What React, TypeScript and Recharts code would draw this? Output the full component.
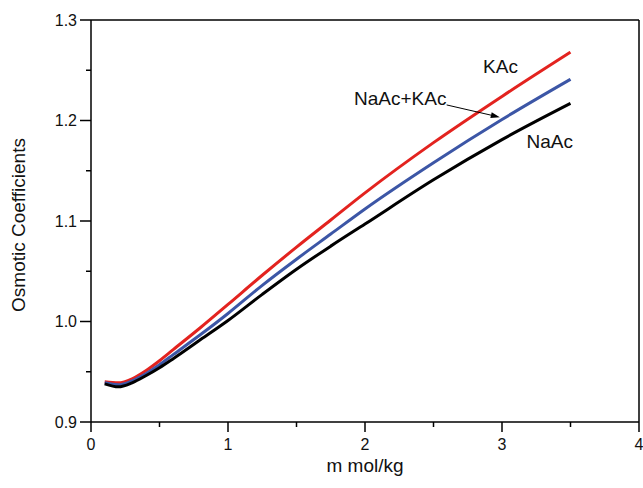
import React from 'react';
import { LineChart, Line, XAxis, YAxis, ReferenceLine, ReferenceDot } from 'recharts';

// Molality (mol/kg)
const molality = [0.1, 0.2, 0.3, 0.4, 0.5, 0.6, 0.8, 1.0, 1.25, 1.5, 1.75, 2.0, 2.5, 3.0, 3.5];
// Osmotic coefficients
const kacValues = [0.940, 0.939, 0.943, 0.951, 0.961, 0.972, 0.994, 1.017, 1.046, 1.074, 1.101, 1.128, 1.178, 1.224, 1.268];
const mixValues = [0.939, 0.937, 0.941, 0.948, 0.957, 0.967, 0.987, 1.008, 1.036, 1.062, 1.087, 1.112, 1.158, 1.201, 1.241];
const naacValues = [0.938, 0.935, 0.939, 0.946, 0.954, 0.963, 0.982, 1.001, 1.027, 1.052, 1.075, 1.097, 1.141, 1.181, 1.217];

const xTicks = [0, 0.5, 1, 1.5, 2, 2.5, 3, 3.5, 4];
const yTicks = [0.9, 0.95, 1.0, 1.05, 1.1, 1.15, 1.2, 1.25, 1.3];

const seriesNames = ['KAc', 'NaAc+KAc', 'NaAc'];

// annotation anchors in data coordinates
const kacLabelPos = { x: 2.862, y: 1.2473 };
const mixLabelPos = { x: 1.92, y: 1.2155 };
const naacLabelPos = { x: 3.179, y: 1.1724 };
const arrowFrom = { x: 2.596, y: 1.2155 };
const arrowTo = { x: 2.984, y: 1.2033 };

const data = molality.map((m, i) => ({
  m,
  kac: kacValues[i],
  mix: mixValues[i],
  naac: naacValues[i],
}));

const FONT = '"Liberation Sans", Arial, Helvetica, sans-serif';
const TEXT = '#111';

const isMajor = (v: number, step: number) => Math.abs(v / step - Math.round(v / step)) < 1e-6;

const XTick = (props: any) => {
  const { x, y, payload } = props;
  const v = payload.value as number;
  const major = isMajor(v, 1);
  return (
    <g>
      <line x1={x} x2={x} y1={y} y2={y + (major ? 10 : 5)} stroke="#000" strokeWidth={1.5} />
      {major && (
        <text x={x} y={y + 28} textAnchor="middle" fontSize={16} fill={TEXT} fontFamily={FONT}>
          {String(v)}
        </text>
      )}
    </g>
  );
};

const YTick = (props: any) => {
  const { x, y, payload } = props;
  const v = payload.value as number;
  const major = isMajor(v, 0.1);
  return (
    <g>
      <line x1={x - (major ? 11 : 5)} x2={x} y1={y} y2={y} stroke="#000" strokeWidth={1.5} />
      {major && (
        <text x={x - 14} y={y} dy="0.36em" textAnchor="end" fontSize={16} fill={TEXT} fontFamily={FONT}>
          {v.toFixed(1)}
        </text>
      )}
    </g>
  );
};

const textShape = (value: string) => (props: any) => (
  <text x={props.cx} y={props.cy} fontSize={19} fill={TEXT} fontFamily={FONT}>
    {value}
  </text>
);

const ArrowShape = (props: any) => {
  const { x1, y1, x2, y2 } = props;
  if (x1 == null) return null;
  const ang = Math.atan2(y2 - y1, x2 - x1);
  const len = 9;
  const hw = 3;
  const bx = x2 - len * Math.cos(ang);
  const by = y2 - len * Math.sin(ang);
  const px = -Math.sin(ang) * hw;
  const py = Math.cos(ang) * hw;
  return (
    <g>
      <line x1={x1} y1={y1} x2={bx} y2={by} stroke="#000" strokeWidth={1} />
      <polygon points={`${x2},${y2} ${bx + px},${by + py} ${bx - px},${by - py}`} fill="#000" />
    </g>
  );
};

export default function App() {
  return (
    <div style={{ position: 'absolute', left: 0, top: 0, background: '#fff' }}>
      <LineChart width={643} height={488} data={data} margin={{ top: 20, right: 4, left: 0, bottom: 0 }}>
        <XAxis
          type="number"
          dataKey="m"
          domain={[0, 4]}
          ticks={xTicks}
          interval={0}
          tickSize={0}
          tickMargin={0}
          tickLine={false}
          tick={<XTick />}
          height={66}
          axisLine={{ stroke: '#000', strokeWidth: 1.5 }}
          label={(p: any) => {
            const vb = p.viewBox || {};
            return (
              <text x={vb.x + vb.width / 2} y={vb.y + 50} textAnchor="middle" fontSize={19} fill={TEXT} fontFamily={FONT}>
                m mol/kg
              </text>
            );
          }}
        />
        <YAxis
          type="number"
          domain={[0.9, 1.3]}
          ticks={yTicks}
          interval={0}
          tickSize={0}
          tickMargin={0}
          tickLine={false}
          tick={<YTick />}
          width={91}
          axisLine={{ stroke: '#000', strokeWidth: 1.5 }}
          label={(p: any) => {
            const vb = p.viewBox || {};
            const cx = vb.x + 25;
            const cy = vb.y + vb.height / 2 + 4;
            return (
              <text x={cx} y={cy} transform={`rotate(-90 ${cx} ${cy})`} textAnchor="middle" fontSize={19} fill={TEXT} fontFamily={FONT}>
                Osmotic Coefficients
              </text>
            );
          }}
        />
        <ReferenceLine y={1.3} stroke="#000" strokeWidth={1.5} />
        <ReferenceLine x={4} stroke="#000" strokeWidth={1.5} />
        <Line type="monotone" dataKey="kac" name={seriesNames[0]} stroke="#e3231f" strokeWidth={3} dot={false} isAnimationActive={false} />
        <Line type="monotone" dataKey="mix" name={seriesNames[1]} stroke="#3c56a6" strokeWidth={3} dot={false} isAnimationActive={false} />
        <Line type="monotone" dataKey="naac" name={seriesNames[2]} stroke="#000" strokeWidth={3} dot={false} isAnimationActive={false} />
        <ReferenceLine segment={[arrowFrom, arrowTo]} shape={(p: any) => <ArrowShape {...p} />} />
        <ReferenceDot x={kacLabelPos.x} y={kacLabelPos.y} r={0} shape={textShape(seriesNames[0])} />
        <ReferenceDot x={mixLabelPos.x} y={mixLabelPos.y} r={0} shape={textShape(seriesNames[1])} />
        <ReferenceDot x={naacLabelPos.x} y={naacLabelPos.y} r={0} shape={textShape(seriesNames[2])} />
      </LineChart>
    </div>
  );
}
